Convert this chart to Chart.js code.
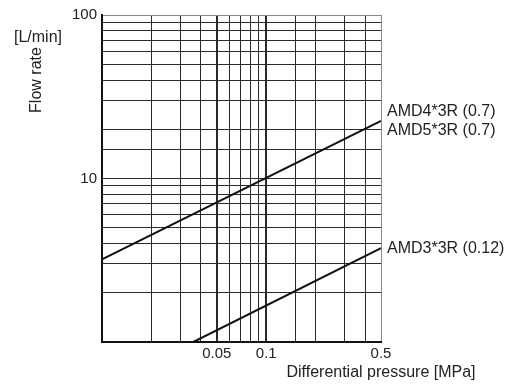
<!DOCTYPE html>
<html>
<head>
<meta charset="utf-8">
<script src="https://cdn.jsdelivr.net/npm/chart.js@4/dist/chart.umd.min.js"></script>
<style>
html,body{margin:0;padding:0;background:#fff;}
#wrap{width:514px;height:385px;}
</style>
</head>
<body>
<div id="wrap"><canvas id="c" width="514" height="385"></canvas></div>
<script>
// ---- data ----
const pressureAMD45 = [0.01, 0.5];      // MPa
const flowAMD45 = [3.2, 22.5];          // L/min
const pressureAMD3 = [0.036, 0.5];      // MPa
const flowAMD3 = [1, 3.75];             // L/min
const labelsAMD45 = ['AMD4*3R (0.7)', 'AMD5*3R (0.7)'];
const labelsAMD3 = ['AMD3*3R (0.12)'];
const xTickLabels = [0.05, 0.1, 0.5];
const yTickLabels = [10, 100];
const xThickLines = [0.05, 0.1];
const xTitle = 'Differential pressure [MPa]';
const yTitle = 'Flow rate';
const yUnit = '[L/min]';

const FONT = '"Liberation Sans", Arial, Helvetica, sans-serif';
const near = (v, list) => list.some(l => Math.abs(v - l) <= l * 1e-6);
const toPts = (xs, ys) => xs.map((x, i) => ({x: x, y: ys[i]}));

const textPlugin = {
  id: 'texts',
  afterDraw(chart) {
    const ctx = chart.ctx, xs = chart.scales.x, ys = chart.scales.y, a = chart.chartArea;
    ctx.save();
    ctx.fillStyle = '#222';
    ctx.font = '16px ' + FONT;
    // series labels at line ends
    chart.data.datasets.forEach(ds => {
      const last = ds.data[ds.data.length - 1];
      const py = ys.getPixelForValue(last.y);
      const px = a.right + 6;
      const n = ds.seriesLabels.length;
      ctx.textAlign = 'left';
      ctx.textBaseline = 'middle';
      ds.seriesLabels.forEach((t, i) => {
        ctx.fillText(t, px, py + (i - (n - 1) / 2) * 19.5);
      });
    });
    // x title centred on the last x tick
    ctx.textAlign = 'center';
    ctx.textBaseline = 'middle';
    ctx.fillText(xTitle, xs.getPixelForValue(xTickLabels[xTickLabels.length - 1]), a.bottom + 31);
    // y unit
    ctx.fillText(yUnit, 38, a.top + 23);
    // y title rotated
    ctx.translate(37, a.top + 65);
    ctx.rotate(-Math.PI / 2);
    ctx.fillText(yTitle, 0, 0);
    ctx.restore();
  }
};

new Chart(document.getElementById('c'), {
  type: 'line',
  data: {
    datasets: [
      {data: toPts(pressureAMD45, flowAMD45), seriesLabels: labelsAMD45,
       borderColor: '#111', borderWidth: 2, pointRadius: 0, tension: 0, fill: false},
      {data: toPts(pressureAMD3, flowAMD3), seriesLabels: labelsAMD3,
       borderColor: '#111', borderWidth: 2, pointRadius: 0, tension: 0, fill: false}
    ]
  },
  options: {
    responsive: false,
    animation: false,
    events: [],
    layout: {padding: {left: 0, top: 15, right: 133, bottom: 0}},
    plugins: {legend: {display: false}, tooltip: {enabled: false}, title: {display: false}},
    scales: {
      x: {
        type: 'logarithmic',
        min: 0.01, max: 0.5,
        border: {display: true, color: '#111', width: 2},
        grid: {
          drawTicks: false,
          color: c => (c.tick && near(c.tick.value, [0.5])) ? '#888' : '#2a2a2a',
          lineWidth: c => (c.tick && near(c.tick.value, xThickLines)) ? 2 : 1
        },
        ticks: {
          autoSkip: false, maxRotation: 0, padding: 3,
          color: '#222', font: {family: FONT, size: 15},
          callback: v => near(v, xTickLabels) ? String(v) : ''
        },
        afterFit: s => { s.height = 43; }
      },
      y: {
        type: 'logarithmic',
        min: 1, max: 100,
        border: {display: true, color: '#111', width: 2},
        grid: {
          drawTicks: false,
          color: c => (c.tick && near(c.tick.value, [100])) ? '#888' : '#2a2a2a',
          lineWidth: 1
        },
        ticks: {
          autoSkip: false, padding: 5,
          color: '#222', font: {family: FONT, size: 15},
          callback: v => near(v, yTickLabels) ? String(v) : ''
        },
        afterFit: s => { s.width = 102; }
      }
    }
  },
  plugins: [textPlugin]
});
</script>
</body>
</html>
